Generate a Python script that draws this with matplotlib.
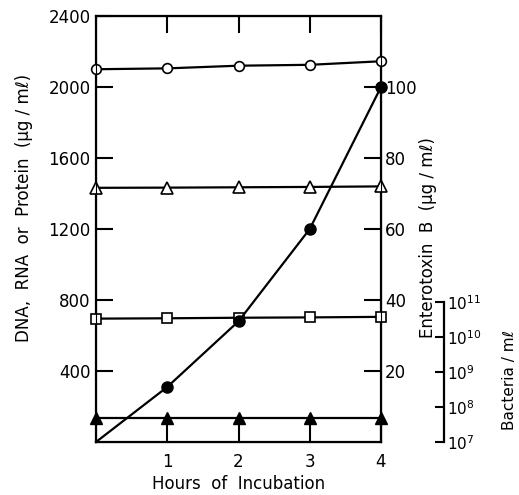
import matplotlib
matplotlib.use("Agg")
from matplotlib import pyplot as plt

# hours of incubation
hours = [0, 1, 2, 3, 4]

# DNA, RNA, protein (ug/ml) - left axis
protein = [2100, 2105, 2120, 2125, 2145]
rna = [1432, 1433, 1435, 1437, 1440]
dna = [695, 697, 700, 702, 705]

# enterotoxin B (ug/ml) - right axis
toxin = [0, 15.5, 34, 60, 100]

# bacteria per ml - log axis
bacteria = [5e7, 5e7, 5e7, 5e7, 5e7]

left_ticks = [400, 800, 1200, 1600, 2000, 2400]
right_ticks = [20, 40, 60, 80, 100]
bact_ticks = [1e7, 1e8, 1e9, 1e10, 1e11]
bact_labels = ["$10^{7}$", "$10^{8}$", "$10^{9}$", "$10^{10}$", "$10^{11}$"]

plt.rcParams['font.family'] = ['DejaVu Sans']
fs = 12
lw = 1.6

fig = plt.figure(figsize=(5.19, 4.95), dpi=100)
W, H = 519, 495
ax = fig.add_axes([96 / W, (H - 442) / H, 285 / W, 426 / H])

ax.plot(hours, protein, color='black', lw=lw, marker='o', ms=7,
        mfc='white', mec='black', mew=1.2, clip_on=False, zorder=5)
ax.plot(hours, rna, color='black', lw=lw, marker='^', ms=8,
        mfc='white', mec='black', mew=1.2, clip_on=False, zorder=5)
ax.plot(hours, dna, color='black', lw=lw, marker='s', ms=7,
        mfc='white', mec='black', mew=1.2, clip_on=False, zorder=5)

ax.set_xlim(0, 4)
ax.set_ylim(0, 2400)
ax.set_xticks([1, 2, 3, 4])
ax.set_yticks(left_ticks)
ax.tick_params(axis='both', direction='in', length=12, width=1.5,
               labelsize=fs, top=True, pad=4)
ax.tick_params(axis='x', pad=8)
for s in ax.spines.values():
    s.set_linewidth(1.6)
ax.set_xlabel("Hours  of  Incubation", fontsize=fs, labelpad=3)
ax.set_ylabel("DNA,  RNA  or  Protein  (\u00b5g / m\u2113)", fontsize=fs)
ax.yaxis.set_label_coords(-0.222, 0.55)

ax2 = ax.twinx()
ax2.plot(hours, toxin, color='black', lw=lw, marker='o', ms=8,
         mfc='black', mec='black', markevery=[1, 2, 3, 4],
         clip_on=False, zorder=6)
ax2.set_ylim(0, 120)
ax2.set_yticks(right_ticks)
ax2.tick_params(axis='y', direction='in', length=12, width=1.5,
                labelsize=fs, pad=3)
ax2.set_ylabel("Enterotoxin  B  (\u00b5g / m\u2113)", fontsize=fs)
ax2.yaxis.set_label_coords(1.135, 0.48)

# bacteria axis: short log scale on the far right
ax3 = fig.add_axes([96 / W, (H - 442) / H, 348 / W, 140 / H])
ax3.patch.set_visible(False)
ax3.set_xlim(0, 4 * 348 / 285)
ax3.set_yscale('log')
ax3.set_ylim(1e7, 1e11)
ax3.plot(hours, bacteria, color='black', lw=lw, marker='^', ms=8,
         mfc='black', mec='black', clip_on=False, zorder=5)
for k in ['left', 'top', 'bottom']:
    ax3.spines[k].set_visible(False)
ax3.spines['right'].set_linewidth(1.6)
ax3.set_xticks([])
ax3.yaxis.tick_right()
ax3.set_yticks(bact_ticks)
ax3.set_yticklabels(bact_labels)
ax3.minorticks_off()
ax3.tick_params(axis='y', direction='in', length=6.5, width=1.5,
                labelsize=fs - 1, pad=2)
ax3.yaxis.set_label_position('right')
ax3.set_ylabel("Bacteria / m\u2113", fontsize=fs - 1)
ax3.yaxis.set_label_coords(1.168, 0.44)

fig.savefig("out.png", dpi=100)
